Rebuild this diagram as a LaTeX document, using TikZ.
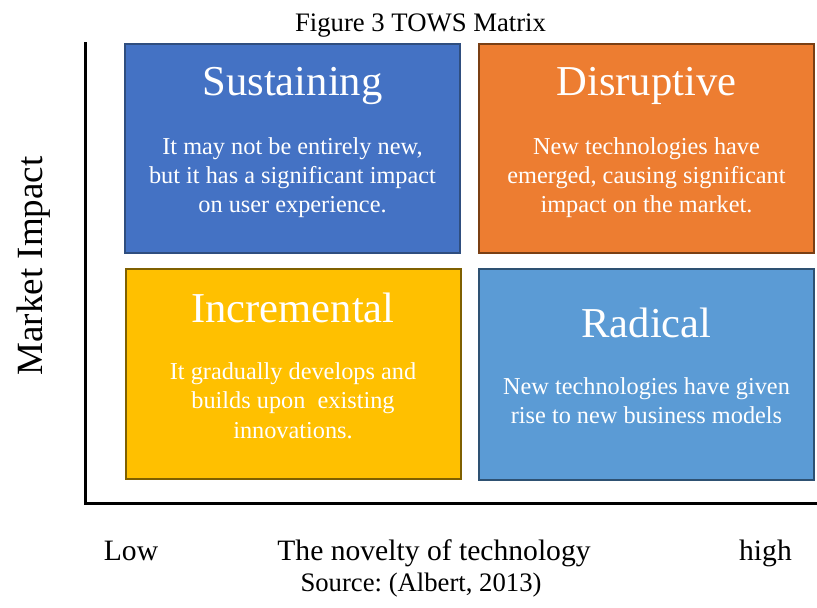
\documentclass[tikz,border=0pt]{standalone}
\usepackage{fontspec}
\setmainfont{Liberation Serif}
\frenchspacing
\definecolor{susfill}{HTML}{4472C4}
\definecolor{susline}{HTML}{2F4E7F}
\definecolor{disfill}{HTML}{ED7D31}
\definecolor{disline}{HTML}{7A3F14}
\definecolor{incfill}{HTML}{FFC000}
\definecolor{incline}{HTML}{7F6000}
\definecolor{radfill}{HTML}{5B9BD5}
\definecolor{radline}{HTML}{2E5172}
\tikzset{
  quad/.style={line width=2pt, inner sep=0pt, outer sep=0pt, minimum width=335pt},
  head/.style={anchor=base, inner sep=0pt, text=white, font=\fontsize{42.6}{50}\selectfont},
  body/.style={anchor=base, inner sep=0pt, text=white, font=\fontsize{24.3}{29}\selectfont},
  lbl/.style={anchor=base, inner sep=0pt, text=black},
  axis/.style={line width=3pt, black}
}
\begin{document}
\begin{tikzpicture}[x=1pt,y=-1pt]
\useasboundingbox (0,0) rectangle (817,608);
% title
\node[lbl, font=\fontsize{26.7}{32}\selectfont] (title) at (420.5,31) {Figure 3 TOWS Matrix};
% axes
\coordinate (ytop) at (85,42);
\coordinate (xend) at (817,503);
\draw[axis] (ytop) |- (xend);
% boxes
\node[quad, fill=susfill, draw=susline, minimum height=209pt] (sus) at (292.5,148.5) {};
\node[quad, fill=disfill, draw=disline, minimum height=209pt] (dis) at (646.5,148.5) {};
\node[quad, fill=incfill, draw=incline, minimum height=210pt] (inc) at (293,374) {};
\node[quad, fill=radfill, draw=radline, minimum height=211pt] (rad) at (646.5,374.5) {};
% Sustaining
\node[head] (sush) at (292.5,95) {Sustaining};
\node[body] (sus1) at (292.5,154) {It may not be entirely new,};
\node[body] (sus2) at (292.5,183) {but it has a significant impact};
\node[body] (sus3) at (292.5,212) {on user experience.};
% Disruptive
\node[head] (dish) at (646.5,95) {Disruptive};
\node[body] (dis1) at (646.5,154) {New technologies have};
\node[body] (dis2) at (646.5,183) {emerged, causing significant};
\node[body] (dis3) at (646.5,212) {impact on the market.};
% Incremental
\node[head] (inch) at (293,322) {Incremental};
\node[body] (inc1) at (293,379) {It gradually develops and};
\node[body] (inc2) at (293,408.5) {builds upon~ existing};
\node[body] (inc3) at (293,438) {innovations.};
% Radical
\node[head] (radh) at (646.5,337) {Radical};
\node[body] (rad1) at (646.5,394) {New technologies have given};
\node[body] (rad2) at (646.5,423) {rise to new business models};
% axis labels
\node[lbl, rotate=90, font=\fontsize{37}{44}\selectfont] (ylab) at (42,266) {Market Impact};
\node[lbl, font=\fontsize{29.6}{35}\selectfont] (low) at (131,560) {Low};
\node[lbl, font=\fontsize{29.6}{35}\selectfont] (xlab) at (434,560) {The novelty of technology};
\node[lbl, font=\fontsize{29.6}{35}\selectfont] (high) at (765.5,560) {high};
\node[lbl, font=\fontsize{26.7}{32}\selectfont] (src) at (421,591) {Source: (Albert, 2013)};
\end{tikzpicture}
\end{document}
